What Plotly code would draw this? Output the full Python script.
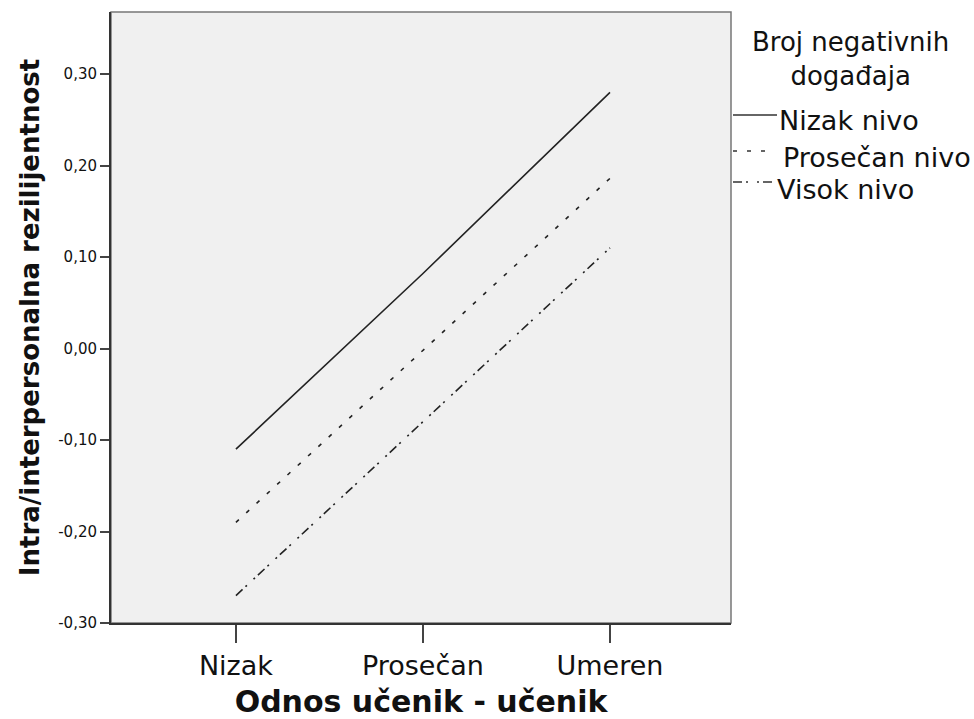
import plotly.graph_objects as go

categories = ["Nizak", "Prosečan", "Umeren"]
series_names = ["Nizak nivo", "Prosečan nivo", "Visok nivo"]
nizak_nivo = [-0.11, 0.082, 0.28]
prosecan_nivo = [-0.19, -0.002, 0.186]
visok_nivo = [-0.27, -0.08, 0.11]
y_tick_vals = [-0.30, -0.20, -0.10, 0.00, 0.10, 0.20, 0.30]
y_tick_text = ["-0,30", "-0,20", "-0,10", "0,00", "0,10", "0,20", "0,30"]
legend_title = "Broj negativnih<br>događaja"

FONT = "DejaVu Sans, Liberation Sans, sans-serif"
W, H = 974, 719
L, R, T, B = 111, 731, 12, 623

series = [nizak_nivo, prosecan_nivo, visok_nivo]
dashes = ["solid", "4px,10px", "9px,4px,2px,9px,2px,4px"]

fig = go.Figure()
for name, vals, dash in zip(series_names, series, dashes):
    fig.add_trace(go.Scatter(
        x=[0, 1, 2], y=vals, mode="lines", name=name,
        line=dict(color="#222222", width=1.6, dash=dash),
        showlegend=False,
    ))

def px_x(p):
    return (p - L) / (R - L)

def px_y(p):
    return (B - p) / (B - T)

# frame (top/right lighter)
fig.add_shape(type="rect", xref="paper", yref="paper", x0=0, x1=1, y0=0, y1=1,
              line=dict(color="#777777", width=1.5), layer="below")

# legend samples
leg_y = [115, 151, 182]
leg_x1 = [777, 772, 775]
for dash, yy, x1 in zip(dashes, leg_y, leg_x1):
    fig.add_shape(type="line", xref="paper", yref="paper",
                  x0=px_x(733), x1=px_x(x1), y0=px_y(yy), y1=px_y(yy),
                  line=dict(color="#333333", width=1.3, dash=dash))

fig.add_annotation(xref="paper", yref="paper", x=px_x(850), y=px_y(59),
                   text=legend_title, showarrow=False, align="center",
                   font=dict(family=FONT, size=26, color="#111111"),
                   xanchor="center", yanchor="middle")
leg_text_x = [777, 781, 775]
for name, yy, xx in zip(series_names, [120, 157, 189], leg_text_x):
    fig.add_annotation(xref="paper", yref="paper", x=px_x(xx), y=px_y(yy),
                       text=name, showarrow=False, xanchor="left", yanchor="middle",
                       font=dict(family=FONT, size=27, color="#111111"))

fig.update_layout(
    width=W, height=H,
    margin=dict(l=L, r=W - R, t=T, b=H - B),
    paper_bgcolor="white", plot_bgcolor="#F0F0F0",
    font=dict(family=FONT, color="#111111"),
)
fig.update_xaxes(
    range=[-0.668, 2.647], tickvals=[0, 1, 2], ticktext=categories,
    showgrid=False, zeroline=False, showline=True, linecolor="#333333", linewidth=2,
    ticks="outside", ticklen=18, tickwidth=2, tickcolor="#444444", automargin=False,
    tickfont=dict(family=FONT, size=27, color="#111111"),
    title=dict(text="<b>Odnos učenik - učenik</b>", font=dict(family=FONT, size=30, color="#111111"), standoff=20),
)
fig.update_yaxes(
    range=[-0.30, 0.3678], tickvals=y_tick_vals, ticktext=y_tick_text,
    showgrid=False, zeroline=False, showline=True, linecolor="#333333", linewidth=2,
    ticks="outside", ticklen=9, tickwidth=2, tickcolor="#444444", automargin=False,
    tickfont=dict(family=FONT, size=15, color="#111111"),
    title=dict(text="<b>Intra/interpersonalna rezilijentnost</b>", font=dict(family=FONT, size=26, color="#111111"), standoff=11),
)

fig.write_html("out.html", config={"displayModeBar": False},
               post_script="document.body.style.margin='0';")
